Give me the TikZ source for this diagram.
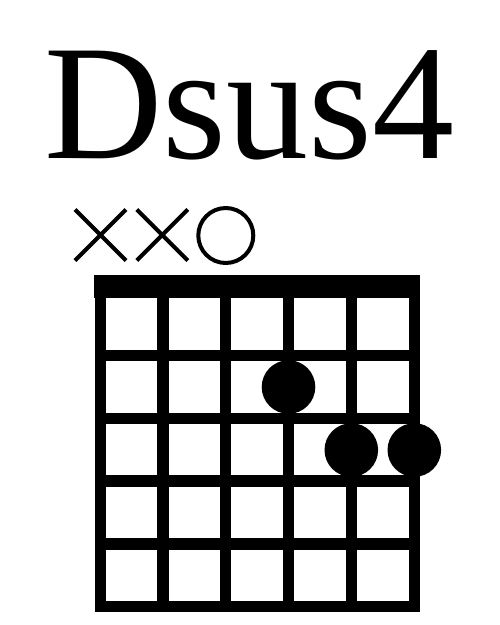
\documentclass[tikz,border=0pt]{standalone}
\usepackage{fontspec}
\setmainfont{Liberation Serif}
\begin{document}
\begin{tikzpicture}[x=1pt,y=-1pt,
  gridline/.style={line width=11.5pt,line cap=rect},
  mark/.style={},
  xmark/.style={line width=4pt},
  fingerdot/.style={fill=black}]
\useasboundingbox (0,0) rectangle (500,625);
% title
\node[anchor=base west,inner sep=0pt,font=\fontsize{164}{164}\selectfont] (title) at (44,158.3) {Dsus4};
% muted / open markers
\draw[xmark] (75,209.5) -- (126,260.5) (75,260.5) -- (126,209.5);
\draw[xmark] (136.8,209.5) -- (187.8,260.5) (136.8,260.5) -- (187.8,209.5);
\draw[xmark] (225.8,235.5) circle[radius=27.5];
% nut
\fill (94.3,275) rectangle (420,298.3);
% strings
\foreach \x in {100.3,163,225.7,288.5,351.3,414.3}
  \draw[gridline] (\x,292) -- (\x,606.7);
% frets
\foreach \y in {355.3,418.3,481.2,543.8,606.7}
  \draw[gridline] (100.3,\y) -- (414.3,\y);
% finger dots
\fill[fingerdot] (288.5,387) circle[radius=26.8];
\fill[fingerdot] (351.3,450) circle[radius=26.8];
\fill[fingerdot] (414.3,450) circle[radius=26.8];
\end{tikzpicture}
\end{document}
